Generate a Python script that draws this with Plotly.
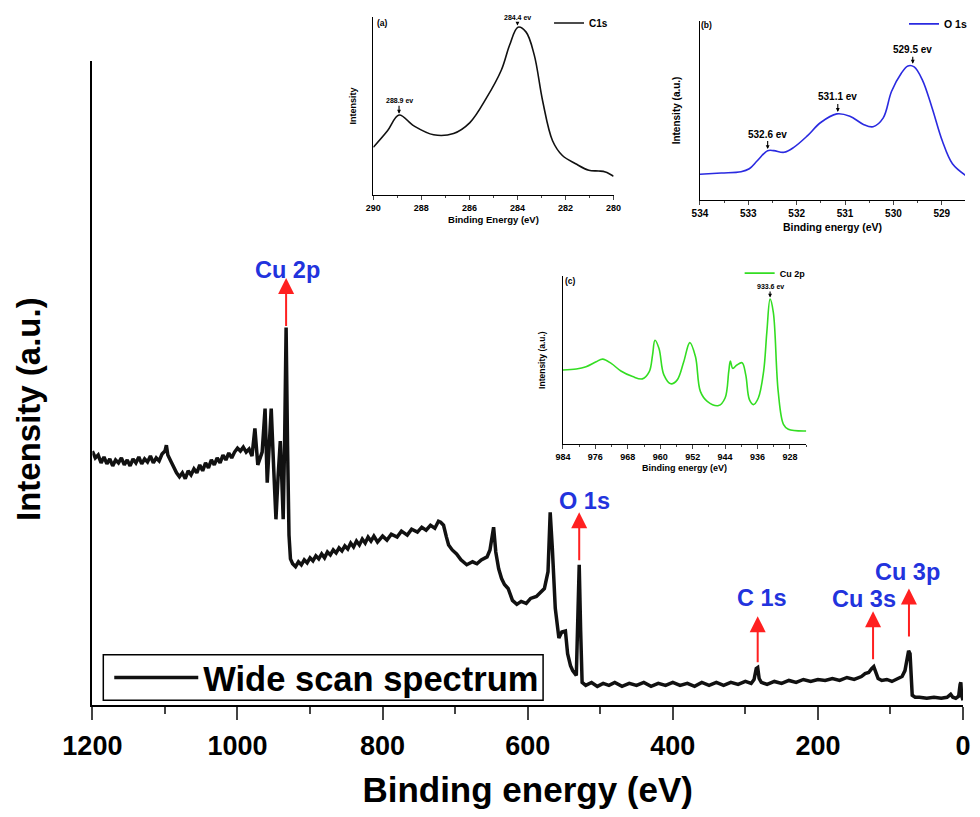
import plotly.graph_objects as go

# the page puts the plot 8px in from the window edge
W, H = 964, 801
PAD = 8

# wide scan (binding energy in eV, intensity in a.u.)
wide_ev = [1200, 1196, 1192, 1188, 1184, 1180, 1176, 1172, 1168, 1164, 1160, 1156, 1152, 1148, 1144,
           1140, 1136, 1132, 1128, 1124, 1120, 1116, 1112, 1108, 1104, 1100, 1098, 1096, 1092, 1088,
           1084, 1080, 1076, 1072, 1068, 1064, 1060, 1056, 1052, 1048, 1044, 1040, 1036, 1032, 1028,
           1024, 1020, 1016, 1012, 1008, 1004, 1000, 996, 992, 988, 984, 980, 976, 972, 966,
           962, 959, 953.5, 950, 947, 944, 941, 939, 937, 935, 933, 931, 929, 927, 924,
           920, 916, 912, 908, 904, 900, 896, 892, 888, 884, 880, 876, 872, 868, 864,
           860, 856, 852, 848, 844, 840, 836, 832, 828, 824, 820, 816, 812, 807, 800,
           794, 788, 780, 774, 766, 760, 752, 746, 740, 734, 728, 723, 720, 716, 712,
           709, 704, 698, 692, 684, 676, 670, 664, 656, 652, 647, 644, 640, 636, 632,
           627, 621, 615, 609, 602, 596, 588, 582, 577, 572, 569, 566, 562, 557, 553,
           548, 545, 541, 538, 533, 531, 529, 527, 525, 520, 512, 504, 496, 488, 480,
           470, 460, 450, 440, 430, 420, 410, 400, 390, 380, 370, 360, 350, 340, 330,
           320, 310, 300, 292, 288, 285, 283, 281, 278, 270, 260, 250, 240, 230, 220,
           210, 200, 190, 180, 170, 160, 150, 140, 135, 130, 126, 123, 120, 117, 112,
           105, 98, 90, 84, 80, 77, 75, 73, 72, 70, 66, 60, 50, 40, 30,
           22, 17, 14, 10, 6, 4, 3, 2, 0]
wide_int = [257, 250, 253, 245, 251, 244, 249, 242, 248, 245, 250, 243, 248, 242, 249,
            245, 251, 244, 249, 246, 252, 245, 250, 247, 254, 257, 263, 253, 247, 240,
            235, 231, 235, 229, 237, 233, 239, 235, 243, 237, 245, 240, 248, 243, 250,
            245, 253, 248, 255, 250, 256, 260, 257, 261, 256, 259, 252, 280, 243, 256,
            300, 225, 300, 238, 188, 232, 267, 230, 188, 268, 382, 262, 172, 148, 143,
            140, 145, 142, 147, 144, 149, 146, 151, 148, 153, 149, 155, 152, 157, 154,
            159, 156, 161, 158, 164, 160, 166, 162, 168, 164, 170, 166, 171, 165, 171,
            167, 173, 170, 176, 172, 178, 175, 180, 177, 182, 179, 186, 185, 182, 170,
            162, 157, 153, 147, 142, 145, 143, 147, 150, 157, 180, 155, 138, 128, 122,
            118, 106, 102, 105, 103, 108, 110, 115, 118, 135, 195, 158, 98, 68, 74,
            75, 52, 40, 35, 30, 92, 142, 75, 23, 20, 23, 19, 22, 20, 23,
            19, 22, 20, 23, 19, 22, 20, 23, 20, 22, 19, 23, 20, 23, 20,
            23, 21, 24, 22, 26, 37, 38, 27, 23, 21, 24, 22, 25, 23, 26,
            24, 26, 25, 27, 25, 28, 26, 29, 32, 33, 37, 39, 33, 27, 25,
            26, 24, 27, 29, 35, 45, 55, 52, 30, 10, 8, 8, 7, 8, 7,
            8, 11, 8, 7, 9, 21, 23, 10, 5]

# inset (a) C1s
c1s_ev = [290.0, 289.41, 288.93, 288.31, 287.49, 286.66, 285.98, 285.29, 284.67, 284.33, 283.98,
          283.64, 283.30, 282.95, 282.54, 282.13, 281.58, 281.03, 280.62, 280.34, 280.0]
c1s_int = [145, 195, 243, 210, 183, 187, 220, 295, 380, 455, 510,
           495, 425, 285, 165, 120, 95, 75, 73, 70, 57]

# inset (b) O 1s
o1s_ev = [534.0, 533.56, 533.15, 532.98, 532.81, 532.60, 532.47, 532.26, 532.06, 531.78, 531.51,
          531.17, 530.90, 530.62, 530.42, 530.21, 530.04, 529.84, 529.70, 529.57, 529.40, 529.20,
          528.99, 528.78, 528.51]
o1s_int = [78, 82, 86, 95, 120, 150, 150, 145, 160, 195, 235,
           262, 255, 230, 223, 250, 330, 385, 408, 405, 365, 280,
           180, 110, 75]

# inset (c) Cu 2p
cu2p_ev = [984, 980.7, 978.3, 975.8, 974.2, 972.1, 969.7, 966.8, 964.4, 962.7, 961.9, 961.3, 960.3,
           959.1, 957.4, 955.8, 954.2, 952.7, 951.3, 950.1, 948.4, 945.6, 944.0, 943.1, 942.7, 942.1,
           941.1, 939.8, 938.9, 938.0, 937.0, 935.8, 934.5, 933.7, 932.9, 932.1, 930.9, 929.6, 928.4,
           923.9]
cu2p_int = [225, 228, 235, 250, 258, 245, 222, 205, 198, 220, 270, 315, 290,
            210, 183, 195, 250, 308, 265, 160, 130, 117, 140, 220, 252, 230,
            240, 247, 210, 135, 120, 140, 220, 340, 440, 400, 160, 60, 45,
            40]

# peak labels on the wide scan
peak_names = ["Cu 2p", "O 1s", "C 1s", "Cu 3s", "Cu 3p"]
peak_ev = [933, 529, 283, 124, 74.5]
peak_tail = [382, 145, 42, 45, 68]
peak_tip = [432, 195, 90, 95, 118]
label_ev = [931, 522, 277, 136, 77]
label_y = [440, 207, 108, 107, 135]

# inset peak marks: (text, axis, x, y, font size, offset)
inset_marks = [("284.4 ev", "2", 284.0, 515, 7, -8), ("288.9 ev", "2", 288.93, 247, 7, -13),
               ("532.6 ev", "3", 532.6, 155, 10, -15), ("531.1 ev", "3", 531.15, 268, 10, -15),
               ("529.5 ev", "3", 529.6, 415, 10, -14), ("933.6 ev", "4", 932.9, 445, 7, -11)]

FONT = "Liberation Sans"


def px_x(p):
    return min(max((p - PAD) / W, 0), 1)


def px_y(p):
    return min(max((H + PAD - p) / H, 0), 1)


def bold(size, color="black"):
    return dict(family=FONT, size=size, color=color, weight="bold")


fig = go.Figure()
fig.add_trace(go.Scatter(x=wide_ev, y=wide_int, mode="lines", name="Wide scan spectrum",
                         line=dict(color="#111111", width=3.5), xaxis="x", yaxis="y", legend="legend"))
fig.add_trace(go.Scatter(x=c1s_ev, y=c1s_int, mode="lines", name="C1s", line_shape="spline",
                         line=dict(color="#111111", width=1.6), xaxis="x2", yaxis="y2", legend="legend2"))
fig.add_trace(go.Scatter(x=o1s_ev, y=o1s_int, mode="lines", name="O 1s", line_shape="spline",
                         line=dict(color="#2a2ae0", width=1.6), xaxis="x3", yaxis="y3", legend="legend3"))
fig.add_trace(go.Scatter(x=cu2p_ev, y=cu2p_int, mode="lines", name="Cu 2p", line_shape="spline",
                         line=dict(color="#33dd22", width=1.6), xaxis="x4", yaxis="y4", legend="legend4"))

axis_common = dict(showgrid=False, zeroline=False, showline=True, linecolor="black", automargin=False)

fig.update_layout(
    width=W, height=H, margin=dict(l=0, r=0, t=0, b=0), showlegend=True,
    paper_bgcolor="white", plot_bgcolor="rgba(0,0,0,0)",
    xaxis=dict(**axis_common, domain=[px_x(93), px_x(970)], range=[1200, 0], anchor="y",
               linewidth=2, tickvals=list(range(0, 1201, 200)), ticks="outside", ticklen=13, tickwidth=2,
               minor=dict(dtick=100, ticks="outside", ticklen=7, tickwidth=2), ticklabelstandoff=2,
               tickfont=bold(27), title=dict(text="Binding energy (eV)", font=bold(35), standoff=36)),
    yaxis=dict(**axis_common, domain=[px_y(704), px_y(53)], range=[0, 651], anchor="x",
               linewidth=2, showticklabels=False, ticks=""),
    # top of inset (a) sits at the edge of the plot, so its range is trimmed to keep the scale
    xaxis2=dict(**axis_common, domain=[px_x(376), px_x(618)], range=[290, 280], anchor="y2",
                linewidth=1, tickvals=list(range(280, 291, 2)), ticks="outside", ticklen=4, tickwidth=1,
                minor=dict(dtick=1, ticks="outside", ticklen=2, tickwidth=1),
                tickfont=bold(9), title=dict(text="Binding Energy (eV)", font=bold(9.5), standoff=4)),
    yaxis2=dict(**axis_common, domain=[px_y(188), px_y(8)], range=[0, 541], anchor="x2",
                linewidth=1, showticklabels=False, ticks="",
                title=dict(text="Intensity", font=bold(9), standoff=14)),
    xaxis3=dict(**axis_common, domain=[px_x(705), px_x(972)], range=[534, 528.52], anchor="y3",
                linewidth=1, tickvals=[529, 530, 531, 532, 533, 534], ticks="outside", ticklen=4, tickwidth=1,
                minor=dict(dtick=0.5, ticks="outside", ticklen=2, tickwidth=1),
                tickfont=bold(10), title=dict(text="Binding energy (eV)", font=bold(10.5), standoff=5)),
    yaxis3=dict(**axis_common, domain=[px_y(193), px_y(12)], range=[0, 545], anchor="x3",
                linewidth=1, showticklabels=False, ticks="",
                title=dict(text="Intensity (a.u.)", font=bold(10), standoff=16)),
    xaxis4=dict(**axis_common, domain=[px_x(567), px_x(812)], range=[984, 924], anchor="y4",
                linewidth=1, tickvals=list(range(928, 985, 8)), ticks="outside", ticklen=4, tickwidth=1,
                minor=dict(dtick=4, ticks="outside", ticklen=2, tickwidth=1),
                tickfont=bold(9), title=dict(text="Binding energy (eV)", font=bold(9), standoff=3)),
    yaxis4=dict(**axis_common, domain=[px_y(440), px_y(270)], range=[0, 510], anchor="x4",
                linewidth=1, showticklabels=False, ticks="",
                title=dict(text="Intensity (a.u.)", font=bold(8.5), standoff=14)),
    legend=dict(x=px_x(110), y=px_y(676), xanchor="left", yanchor="middle", bgcolor="rgba(0,0,0,0)",
                borderwidth=0, font=bold(34.5), itemwidth=84),
    legend2=dict(x=px_x(553), y=px_y(14), xanchor="left", yanchor="middle", bgcolor="rgba(0,0,0,0)",
                 font=bold(10), itemwidth=30),
    legend3=dict(x=px_x(911), y=px_y(15), xanchor="left", yanchor="middle", bgcolor="rgba(0,0,0,0)",
                 font=bold(10.5), itemwidth=30),
    legend4=dict(x=px_x(745), y=px_y(267), xanchor="left", yanchor="middle", bgcolor="rgba(0,0,0,0)",
                 font=bold(9), itemwidth=30),
)

# frame of the main legend
fig.add_shape(type="rect", xref="paper", yref="paper", x0=px_x(104), x1=px_x(547),
              y0=px_y(699), y1=px_y(653), line=dict(color="black", width=1.5), fillcolor="white")

# main y title sits a bit below the middle of the axis
fig.add_annotation(x=px_x(8), y=px_y(405), xref="paper", yref="paper", text="Intensity (a.u.)",
                   textangle=-90, showarrow=False, font=bold(33), xanchor="left", yanchor="middle")

# red arrows and blue labels on the wide scan
for name, xe, tail, tip, lx, ly in zip(peak_names, peak_ev, peak_tail, peak_tip, label_ev, label_y):
    fig.add_annotation(x=xe, y=tip, ax=xe, ay=tail, xref="x", yref="y", axref="x", ayref="y",
                       text="", showarrow=True, arrowhead=2, arrowsize=1.6, arrowwidth=2,
                       arrowcolor="#ff2020")
    fig.add_annotation(x=lx, y=ly, xref="x", yref="y", text=name, showarrow=False,
                       font=bold(23.5, "#2233dd"), xanchor="center", yanchor="middle")

# peak positions inside the insets
for txt, ax_id, xe, ye, size, off in inset_marks:
    fig.add_annotation(x=xe, y=ye, xref="x" + ax_id, yref="y" + ax_id, text=txt, showarrow=True,
                       ax=0, ay=off, arrowhead=2, arrowsize=0.7, arrowwidth=1.1, arrowcolor="black",
                       font=bold(size))

for txt, x, y in [("(a)", 385, 14), ("(b)", 712, 16), ("(c)", 575, 275)]:
    fig.add_annotation(x=px_x(x), y=px_y(y), xref="paper", yref="paper", text=txt, showarrow=False,
                       font=bold(8.5), xanchor="center", yanchor="middle")

fig.write_html("out.html")
